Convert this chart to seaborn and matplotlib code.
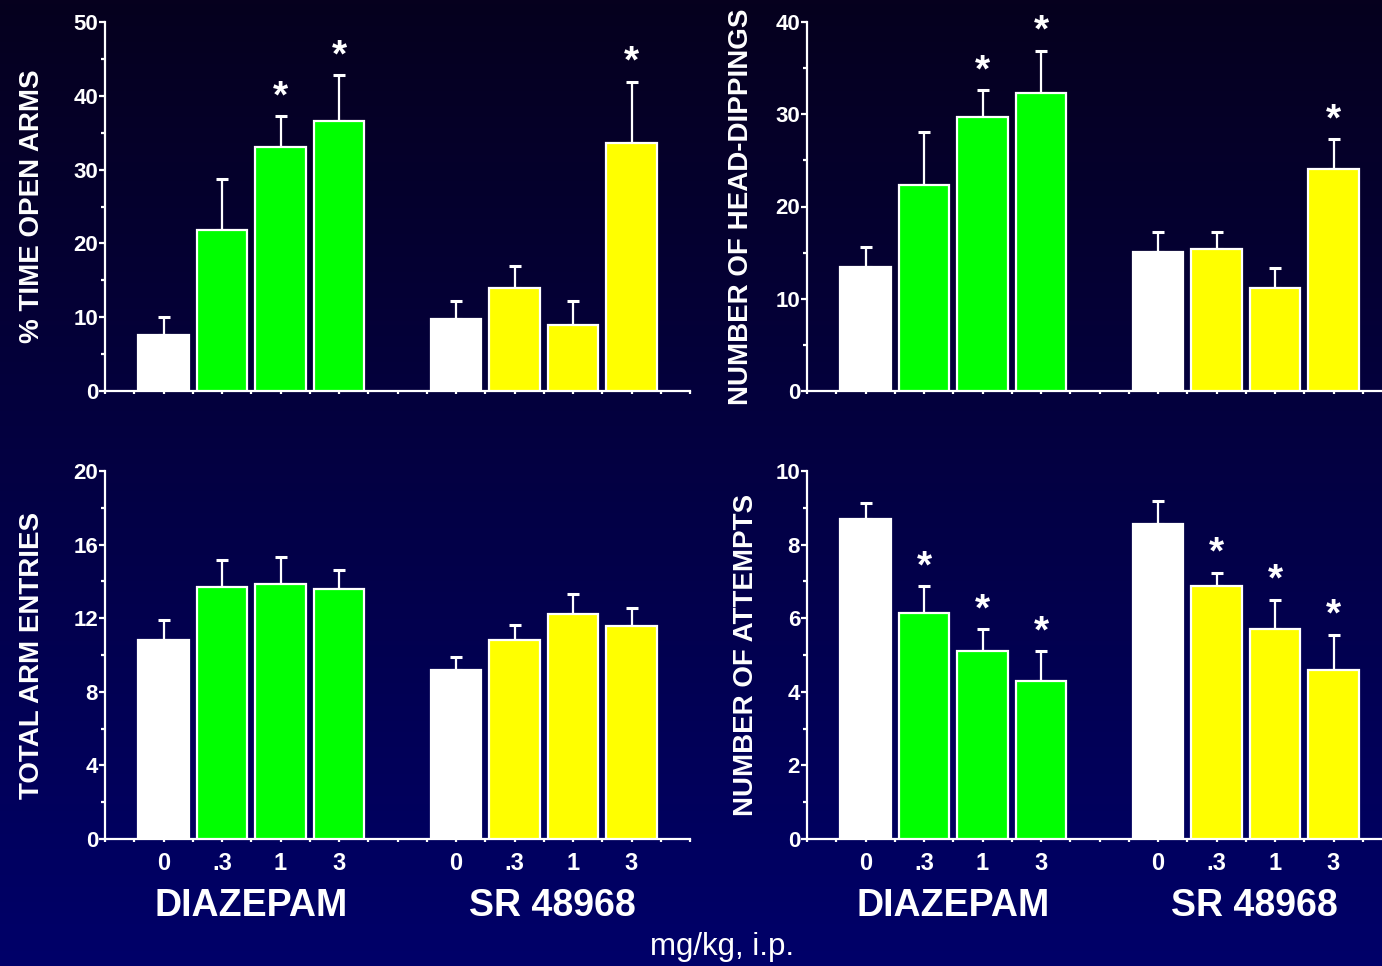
import numpy as np
import pandas as pd
import matplotlib
matplotlib.use("Agg")
import matplotlib.pyplot as plt
import seaborn as sns

# ---------------- data ----------------
doses = ["0", ".3", "1", "3"]
groups = ["DIAZEPAM", "SR 48968"]

open_arms_mean = [7.6, 21.8, 33.0, 36.6, 9.8, 14.0, 9.0, 33.6]
open_arms_err = [2.4, 6.9, 4.2, 6.2, 2.4, 2.9, 3.2, 8.3]
open_arms_sig = [False, False, True, True, False, False, False, True]

head_dips_mean = [13.4, 22.3, 29.7, 32.3, 15.1, 15.4, 11.2, 24.1]
head_dips_err = [2.2, 5.8, 2.9, 4.6, 2.1, 1.8, 2.1, 3.2]
head_dips_sig = [False, False, True, True, False, False, False, True]

arm_entries_mean = [10.8, 13.7, 13.85, 13.6, 9.2, 10.8, 12.25, 11.55]
arm_entries_err = [1.1, 1.45, 1.45, 1.0, 0.7, 0.85, 1.05, 1.0]
arm_entries_sig = [False] * 8

attempts_mean = [8.7, 6.13, 5.1, 4.3, 8.55, 6.87, 5.7, 4.6]
attempts_err = [0.42, 0.74, 0.6, 0.8, 0.64, 0.36, 0.8, 0.95]
attempts_sig = [False, True, True, True, False, True, True, True]

bar_pos = [1, 2, 3, 4, 6, 7, 8, 9]
bar_colors = ["#ffffff", "#00ff00", "#00ff00", "#00ff00",
              "#ffffff", "#ffff00", "#ffff00", "#ffff00"]

panels = [
    dict(title="% TIME OPEN ARMS", mean=open_arms_mean, err=open_arms_err,
         sig=open_arms_sig, ymax=50, major=10, minor=5, xlabels=False,
         rect=[105, 22, 391], labx=-0.1248),
    dict(title="NUMBER OF HEAD-DIPPINGS", mean=head_dips_mean, err=head_dips_err,
         sig=head_dips_sig, ymax=40, major=10, minor=5, xlabels=False,
         rect=[807, 22, 391], labx=-0.113),
    dict(title="TOTAL ARM ENTRIES", mean=arm_entries_mean, err=arm_entries_err,
         sig=arm_entries_sig, ymax=20, major=4, minor=2, xlabels=True,
         rect=[105, 471, 839], labx=-0.1248),
    dict(title="NUMBER OF ATTEMPTS", mean=attempts_mean, err=attempts_err,
         sig=attempts_sig, ymax=10, major=2, minor=1, xlabels=True,
         rect=[807, 471, 839], labx=-0.104),
]

# ---------------- style ----------------
sns.set_style("ticks")
plt.rcParams["font.family"] = ["Liberation Sans", "DejaVu Sans"]
plt.rcParams["text.color"] = "white"
plt.rcParams["axes.labelcolor"] = "white"

W, H = 1382, 966
fig = plt.figure(figsize=(W / 100, H / 100), dpi=100)

# background gradient
bg = fig.add_axes([0, 0, 1, 1], zorder=-10)
grad = np.linspace(0, 1, 256)[:, None]
top = np.array([6, 0, 30]) / 255
bot = np.array([0, 0, 105]) / 255
img = top[None, None, :] * (1 - grad[:, :, None]) + bot[None, None, :] * grad[:, :, None]
img = np.repeat(img, 2, axis=1)
bg.imshow(img, aspect="auto", extent=[0, 1, 0, 1])
bg.set_axis_off()

AXW = 585
for p in panels:
    x0, ytop, ybot = p["rect"]
    ax = fig.add_axes([x0 / W, 1 - ybot / H, AXW / W, (ybot - ytop) / H])
    ax.set_facecolor("none")

    df = pd.DataFrame({"pos": bar_pos, "value": p["mean"],
                       "key": [str(i) for i in range(8)]})
    pal = {str(i): c for i, c in enumerate(bar_colors)}
    sns.barplot(data=df, x="pos", y="value", hue="key", palette=pal,
                native_scale=True, width=0.87, edgecolor="white",
                linewidth=1.6, legend=False, ax=ax, errorbar=None,
                saturation=1, dodge=False, zorder=3)
    ax.errorbar(bar_pos, p["mean"],
                yerr=[np.zeros(8), p["err"]],
                fmt="none", ecolor="white", elinewidth=1.6,
                capsize=4, capthick=2.2, zorder=2)
    for xp, m, e, s in zip(bar_pos, p["mean"], p["err"], p["sig"]):
        if s:
            ax.annotate("*", xy=(xp, m + e), xytext=(0, 1),
                        textcoords="offset pixels", ha="center", va="bottom",
                        fontsize=28, fontweight="bold", color="white")

    ax.set_xlim(0, 10)
    ax.set_ylim(0, p["ymax"])
    ax.set_yticks(np.arange(0, p["ymax"] + 0.01, p["major"]))
    ax.set_yticks(np.arange(0, p["ymax"] + 0.01, p["minor"]), minor=True)
    ax.set_yticklabels([f"{v:g}" for v in np.arange(0, p["ymax"] + 0.01, p["major"])],
                       fontsize=16, fontweight="bold", color="white")
    xt = np.arange(0, 10.01, 0.5)
    ax.set_xticks(xt)
    if p["xlabels"]:
        labs = []
        for t in xt:
            if t in bar_pos:
                labs.append((doses * 2)[bar_pos.index(t)])
            else:
                labs.append("")
        ax.set_xticklabels(labs, fontsize=17, fontweight="bold", color="white")
        ax.text(2.5, -0.182, groups[0], transform=ax.get_xaxis_transform(),
                ha="center", va="center", fontsize=27, fontweight="bold",
                color="white")
        ax.text(7.65, -0.182, groups[1], transform=ax.get_xaxis_transform(),
                ha="center", va="center", fontsize=27, fontweight="bold",
                color="white")
    else:
        ax.set_xticklabels([])
    ax.set_xlabel("")
    ax.set_ylabel(p["title"], fontsize=20, fontweight="bold", color="white",
                  va="center")
    ax.yaxis.set_label_coords(p["labx"], 0.5)

    for side in ["top", "right"]:
        ax.spines[side].set_visible(False)
    for side in ["left", "bottom"]:
        ax.spines[side].set_color("white")
        ax.spines[side].set_linewidth(1.6)
    ax.tick_params(axis="y", which="major", direction="out", length=4,
                   width=1.6, color="white", pad=1)
    ax.tick_params(axis="y", which="minor", direction="out", length=3,
                   width=1.6, color="white")
    ax.tick_params(axis="x", which="major", direction="out", length=2.5,
                   width=1.6, color="white", pad=7)
    ax.set_clip_on(False)

fig.text(722 / W, 1 - 947 / H, "mg/kg, i.p.", ha="center", va="center",
         fontsize=22.5, color="white")

fig.savefig("out.png", dpi=100)
